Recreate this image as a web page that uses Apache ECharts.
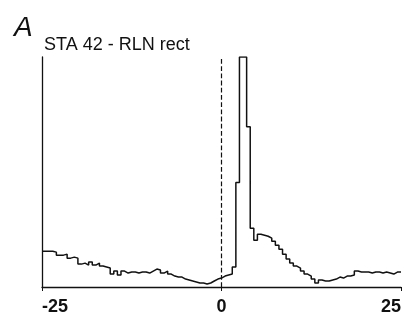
<!DOCTYPE html>
<html><head><meta charset="utf-8">
<script src="https://cdn.jsdelivr.net/npm/echarts@6/dist/echarts.min.js"></script>
<style>html,body{margin:0;padding:0;background:#fff}#c{width:404px;height:321px}</style>
</head><body><div id="c"></div>
<script>
// bin start times (ms), 0.5 ms bins from -25 to 24.5
const binStarts = [];
for (let i = 0; i < 100; i++) binStarts.push(-25 + i * 0.5);
const counts = [
  36,36,36,35,32,32,33,29,30,29,
  23,24,22,25,22,24,21,20,19,13,
  16,12,16,14,15,15,14,15,15,14,
  16,18,17,14,16,13,11,10,10,8,
  7,6,5,4,4,3,4,6,8,9,
  11,12,13,20,105,231,231,161,59,47,
  53,52,51,49,46,42,38,33,28,24,
  21,19,16,13,11,8,4,7,6,6,
  7,8,10,9,11,11,12,16,15,15,
  15,14,15,15,14,15,14,13,15,15
];
const xTicks = [-25, 0, 25];
const titleLetter = 'A';
const subtitle = 'STA 42 - RLN rect';

const data = binStarts.map((x, i) => [x, counts[i]]);
data.push([25, counts[counts.length - 1]]);

const chart = echarts.init(document.getElementById('c'), null, {renderer: 'canvas'});
chart.setOption({
  animation: false,
  grid: {left: 42, right: 3, top: 57, bottom: 34},
  title: [
    {text: titleLetter, left: 9, top: 9, textStyle: {fontFamily: 'Liberation Sans', fontStyle: 'italic', fontWeight: 'normal', fontSize: 28, color: '#111'}},
    {text: subtitle, left: 39, top: 31, textStyle: {fontFamily: 'Liberation Sans', fontWeight: 'normal', fontSize: 18, color: '#111'}}
  ],
  xAxis: {
    type: 'value', min: -25, max: 25, interval: 25,
    axisLine: {lineStyle: {color: '#111', width: 1.3}},
    axisTick: {show: true, length: 4, lineStyle: {color: '#111'}},
    splitLine: {show: false},
    axisLabel: {
      fontFamily: 'Liberation Sans', fontWeight: 'bold', fontSize: 18, color: '#111', margin: 11,
      alignMinLabel: 'left', alignMaxLabel: 'right',
      formatter: v => xTicks.includes(v) ? String(v) : ''
    }
  },
  yAxis: {
    type: 'value', min: 0, max: 231,
    axisLine: {show: true, onZero: false, lineStyle: {color: '#111', width: 1.3}},
    axisTick: {show: false}, axisLabel: {show: false}, splitLine: {show: false}
  },
  series: [{
    type: 'line', step: 'end', data: data, symbol: 'none',
    lineStyle: {color: '#111', width: 1.5},
    markLine: {
      silent: true, symbol: 'none', label: {show: false},
      lineStyle: {color: '#111', type: 'dashed', width: 1.2},
      data: [[{coord: [0, 0]}, {coord: [0, 231]}]]
    }
  }]
});
</script></body></html>
